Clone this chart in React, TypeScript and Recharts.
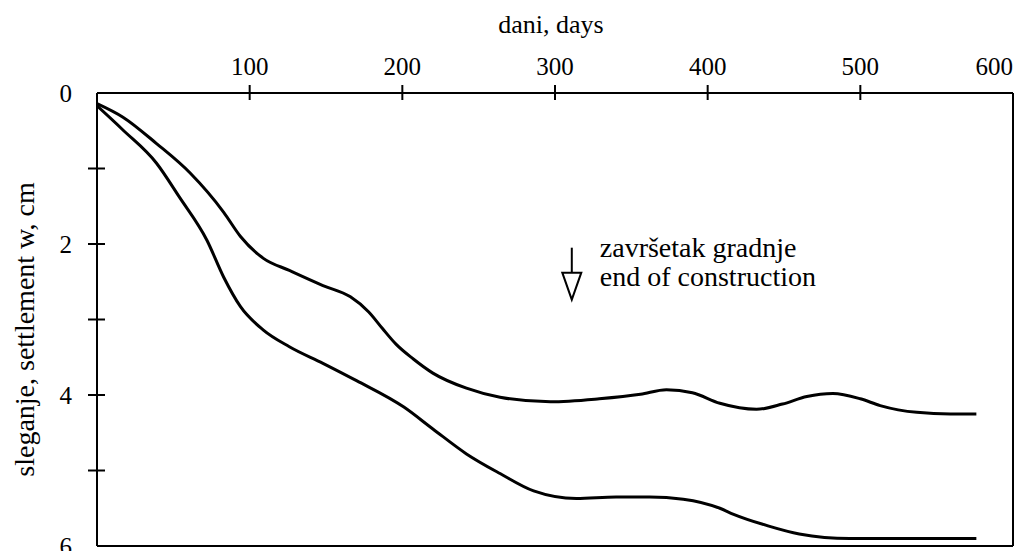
import React from 'react';
import { LineChart, Line, XAxis, YAxis, ReferenceDot } from 'recharts';

// upper curve (days / settlement in cm)
const daysUpper = [0, 17, 39, 61, 83, 94, 109, 126, 148, 166, 178, 187, 196, 207, 220, 242, 264, 297, 329, 356, 373, 390, 408, 432, 449, 465, 482, 500, 513, 537, 559, 576];
const settlementUpper = [0.14, 0.32, 0.67, 1.06, 1.58, 1.9, 2.19, 2.35, 2.55, 2.7, 2.9, 3.12, 3.33, 3.52, 3.71, 3.91, 4.03, 4.09, 4.05, 3.99, 3.93, 3.97, 4.11, 4.19, 4.12, 4.02, 3.98, 4.05, 4.14, 4.23, 4.25, 4.25];

// lower curve
const daysLower = [0, 17, 39, 54, 72, 83, 94, 109, 126, 148, 170, 201, 220, 242, 264, 286, 314, 340, 362, 384, 408, 417, 439, 460, 493, 576];
const settlementLower = [0.17, 0.49, 0.93, 1.38, 1.95, 2.44, 2.83, 3.14, 3.36, 3.58, 3.81, 4.16, 4.45, 4.78, 5.04, 5.27, 5.37, 5.35, 5.35, 5.38, 5.5, 5.58, 5.73, 5.84, 5.9, 5.9];

const xTicks = [100, 200, 300, 400, 500, 600];
const yTicks = [0, 1, 2, 3, 4, 5, 6];
const yLabelled = [0, 2, 4, 6];

const endOfConstructionDay = 311;
const endOfConstructionW = 2.38;
const annotationLines = ['završetak gradnje', 'end of construction'];

const FONT = 'Liberation Serif';

const upperData = daysUpper.map((d, i) => ({ day: d, w: settlementUpper[i] }));
const lowerData = daysLower.map((d, i) => ({ day: d, w: settlementLower[i] }));

const textStyle = (size: number): React.CSSProperties => ({ fontFamily: FONT, fontSize: size, fill: '#000' });

function TopTick(props: any) {
    const { x, y, payload } = props;
    const last = payload.value === 600;
    return (
        <g>
            {!last && <line x1={x} x2={x} y1={y - 8} y2={y + 7} stroke="#000" strokeWidth={2} />}
            <text x={x} y={y - 18} textAnchor={last ? 'end' : 'middle'} style={textStyle(25)}>
                {payload.value}
            </text>
        </g>
    );
}

function LeftTick(props: any) {
    const { x, y, payload } = props;
    const v = payload.value;
    const showLine = v > 0 && v < 6;
    return (
        <g>
            {showLine && <line x1={x - 9} x2={x + 8} y1={y} y2={y} stroke="#000" strokeWidth={2} />}
            {yLabelled.includes(v) && (
                <text x={x - 25} y={y + 9} textAnchor="end" style={textStyle(25)}>
                    {v}
                </text>
            )}
        </g>
    );
}

function EndMarker(props: any) {
    const { cx, cy } = props;
    return (
        <g>
            <line x1={cx} x2={cx} y1={cy - 25} y2={cy} stroke="#000" strokeWidth={2} />
            <polygon
                points={`${cx - 9.5},${cy} ${cx + 9.5},${cy} ${cx},${cy + 27}`}
                fill="#fff"
                stroke="#000"
                strokeWidth={2}
            />
            {annotationLines.map((t, i) => (
                <text key={t} x={cx + 28} y={cy - 16 + i * 29} style={textStyle(28)}>
                    {t}
                </text>
            ))}
        </g>
    );
}

function YTitle(props: any) {
    const { viewBox } = props;
    const cy = viewBox.y + viewBox.height / 2 + 10;
    return (
        <text x={24} y={cy} transform={`rotate(-90, 24, ${cy})`} textAnchor="middle" dominantBaseline="central" style={textStyle(28)}>
            sleganje, settlement w, cm
        </text>
    );
}

function XTitle(props: any) {
    const { viewBox } = props;
    const cx = viewBox.x + viewBox.width / 2;
    return (
        <text x={cx - 4} y={33} textAnchor="middle" style={textStyle(26)}>
            dani, days
        </text>
    );
}

export default function App() {
    return (
        <div style={{ position: 'absolute', left: 0, top: 0, width: 1035, height: 551, background: '#fff' }}>
            <LineChart width={1035} height={551} margin={{ top: 0, right: 0, bottom: 0, left: 0 }}>
                <XAxis
                    dataKey="day"
                    type="number"
                    orientation="top"
                    domain={[0, 600]}
                    ticks={xTicks}
                    height={93}
                    tickSize={0}
                    tickMargin={0}
                    tickLine={false}
                    axisLine={{ stroke: '#000', strokeWidth: 2 }}
                    tick={<TopTick />}
                    interval={0}
                    allowDataOverflow
                    label={<XTitle />}
                />
                <XAxis
                    xAxisId="bottom"
                    type="number"
                    orientation="bottom"
                    domain={[0, 600]}
                    height={5}
                    tick={false}
                    tickLine={false}
                    axisLine={{ stroke: '#000', strokeWidth: 2 }}
                />
                <YAxis
                    type="number"
                    reversed
                    domain={[0, 6]}
                    ticks={yTicks}
                    width={97}
                    tickSize={0}
                    tickMargin={0}
                    tickLine={false}
                    axisLine={{ stroke: '#000', strokeWidth: 2 }}
                    tick={<LeftTick />}
                    interval={0}
                    allowDataOverflow
                    label={<YTitle />}
                />
                <YAxis
                    yAxisId="right"
                    orientation="right"
                    type="number"
                    domain={[0, 6]}
                    width={22}
                    tick={false}
                    tickLine={false}
                    axisLine={{ stroke: '#000', strokeWidth: 2 }}
                />
                <Line
                    data={upperData}
                    dataKey="w"
                    type="monotone"
                    stroke="#000"
                    strokeWidth={3}
                    dot={false}
                    activeDot={false}
                    isAnimationActive={false}
                />
                <Line
                    data={lowerData}
                    dataKey="w"
                    type="monotone"
                    stroke="#000"
                    strokeWidth={3}
                    dot={false}
                    activeDot={false}
                    isAnimationActive={false}
                />
                <ReferenceDot
                    x={endOfConstructionDay}
                    y={endOfConstructionW}
                    ifOverflow="visible"
                    shape={(p: any) => <EndMarker {...p} />}
                />
            </LineChart>
        </div>
    );
}
